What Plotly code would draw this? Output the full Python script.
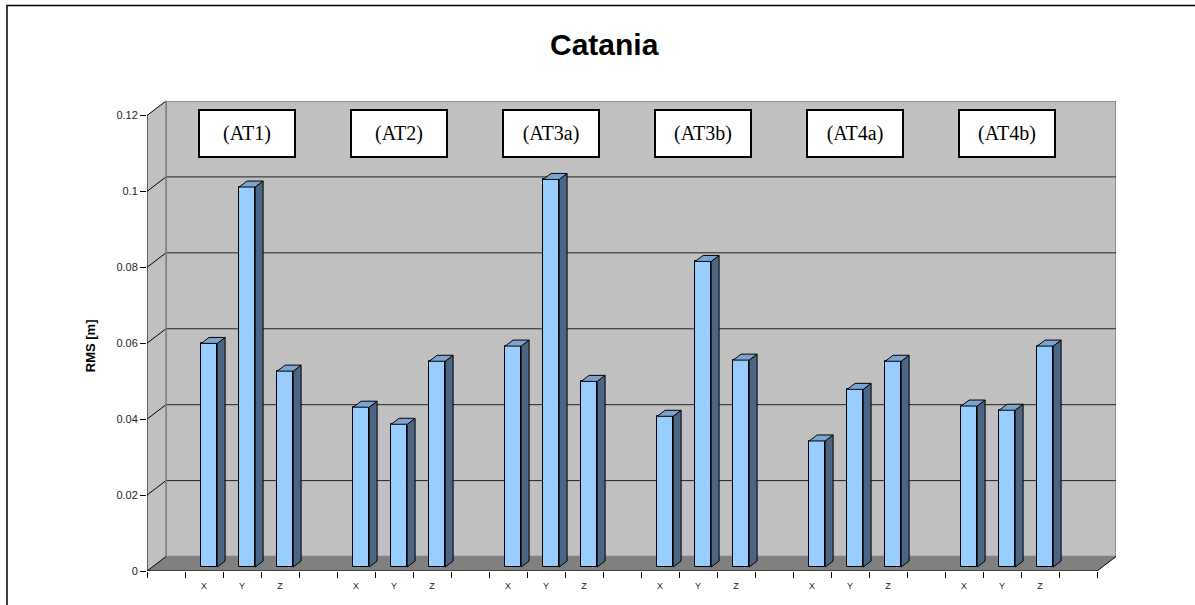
import plotly.graph_objects as go

# ---------------- data ----------------
groups = ["(AT1)", "(AT2)", "(AT3a)", "(AT3b)", "(AT4a)", "(AT4b)"]
components = ["X", "Y", "Z"]
rms_x = [0.0589, 0.0421, 0.0582, 0.0397, 0.0332, 0.0424]
rms_y = [0.1001, 0.0376, 0.1021, 0.0805, 0.0468, 0.0413]
rms_z = [0.0516, 0.0542, 0.0489, 0.0545, 0.0542, 0.0582]
y_ticks = [0, 0.02, 0.04, 0.06, 0.08, 0.1, 0.12]
y_ticktext = ["0", "0.02", "0.04", "0.06", "0.08", "0.1", "0.12"]

# category layout: blank, X, Y, Z per group, then a trailing blank
cat_labels = []
for g in groups:
    cat_labels += [""] + components
cat_labels += [""]
n_cat = len(cat_labels)

# ---------------- geometry (pixels) ----------------
W, H = 1195, 605
front_left, front_bottom = 147, 571
cat_px = 38.0          # pixel width of a category
val_px = 3800.0        # pixels per unit value
depth_dx, depth_dy = 19.0, 14.5   # oblique depth of the floor / walls
ymax = 0.12

x0r = -0.5
plot_w = n_cat * cat_px + depth_dx
x1r = x0r + plot_w / cat_px
plot_h = ymax * val_px + depth_dy
y1r = plot_h / val_px
m_l = front_left
m_r = W - (front_left + plot_w)
m_b = H - front_bottom
m_t = front_bottom - plot_h

ddx = depth_dx / cat_px
ddy = depth_dy / val_px
x_end = x0r + n_cat           # front right end of the category axis

# bar geometry (data units)
bar_shift = 5.2 / cat_px
bar_w = 16.0 / cat_px
bar_base = 4.0 / val_px
side_dx = 7.9 / cat_px
side_dy = 6.0 / val_px

C_WALL = "#C0C0C0"
C_FLOOR = "#808080"
C_FRONT = "#99CCFF"
C_SIDE = "#4D6584"
C_TOP = "#7CA4D0"

def px_to_paper_x(px):
    return (px - m_l) / plot_w

def px_to_paper_y(py):
    return (front_bottom - py) / plot_h

fig = go.Figure()

# ---------------- bars ----------------
bar_x, bar_v = [], []
for gi in range(len(groups)):
    for ci, series in enumerate([rms_x, rms_y, rms_z]):
        bar_x.append(gi * 4 + 1 + ci + bar_shift)
        bar_v.append(series[gi])

fig.add_trace(go.Bar(
    x=bar_x, y=bar_v, base=[bar_base] * len(bar_v), width=bar_w,
    marker=dict(color=C_FRONT, line=dict(color="black", width=1)),
    showlegend=False, hoverinfo="skip"))

for xc, v in zip(bar_x, bar_v):
    xl = xc - bar_w / 2
    xr = xc + bar_w / 2
    top = bar_base + v
    # side face
    fig.add_trace(go.Scatter(
        x=[xr, xr + side_dx, xr + side_dx, xr, xr],
        y=[bar_base, bar_base + side_dy, top + side_dy, top, bar_base],
        mode="lines", fill="toself", fillcolor=C_SIDE,
        line=dict(color="black", width=1), showlegend=False, hoverinfo="skip"))
    # top face
    fig.add_trace(go.Scatter(
        x=[xl, xr, xr + side_dx, xl + side_dx, xl],
        y=[top, top, top + side_dy, top + side_dy, top],
        mode="lines", fill="toself", fillcolor=C_TOP,
        line=dict(color="black", width=1), showlegend=False, hoverinfo="skip"))

# ---------------- walls, floor, grid ----------------
shapes = []
# back wall
shapes.append(dict(type="rect", xref="x", yref="y", layer="below",
                   x0=x0r + ddx, x1=x_end + ddx, y0=ddy, y1=ymax + ddy,
                   fillcolor=C_WALL, line=dict(color="#808080", width=1.5)))
# left wall
shapes.append(dict(type="path", xref="x", yref="y", layer="below",
                   path=f"M {x0r},0 L {x0r},{ymax} L {x0r+ddx},{ymax+ddy} L {x0r+ddx},{ddy} Z",
                   fillcolor=C_WALL, line=dict(width=0)))
# floor
shapes.append(dict(type="path", xref="x", yref="y", layer="below",
                   path=f"M {x0r},0 L {x_end},0 L {x_end+ddx},{ddy} L {x0r+ddx},{ddy} Z",
                   fillcolor=C_FLOOR, line=dict(width=0)))
# horizontal gridlines on back wall
for v in y_ticks[1:-1]:
    shapes.append(dict(type="line", xref="x", yref="y", layer="below",
                       x0=x0r + ddx, x1=x_end + ddx, y0=v + ddy, y1=v + ddy,
                       line=dict(color="#222222", width=1)))
# diagonals on left wall
for v in y_ticks:
    shapes.append(dict(type="line", xref="x", yref="y", layer="below",
                       x0=x0r, x1=x0r + ddx, y0=v, y1=v + ddy,
                       line=dict(color="black", width=1)))
# back-wall left edge
shapes.append(dict(type="line", xref="x", yref="y", layer="below",
                   x0=x0r + ddx, x1=x0r + ddx, y0=ddy, y1=ymax + ddy,
                   line=dict(color="#808080", width=1.5)))
# axis lines
shapes.append(dict(type="line", xref="x", yref="y", layer="above",
                   x0=x0r, x1=x0r, y0=0, y1=ymax, line=dict(color="black", width=1)))
shapes.append(dict(type="line", xref="x", yref="y", layer="above",
                   x0=x0r, x1=x_end, y0=0, y1=0, line=dict(color="black", width=1)))
shapes.append(dict(type="line", xref="x", yref="y", layer="above",
                   x0=x_end, x1=x_end + ddx, y0=0, y1=ddy, line=dict(color="black", width=1)))
# outer chart border
shapes.append(dict(type="rect", xref="paper", yref="paper", layer="above",
                   x0=px_to_paper_x(7), x1=px_to_paper_x(W + 10),
                   y0=px_to_paper_y(H + 10), y1=px_to_paper_y(5),
                   fillcolor="rgba(0,0,0,0)", line=dict(color="black", width=1.5)))

# ---------------- annotations ----------------
annotations = []
for gi, g in enumerate(groups):
    annotations.append(dict(
        text=g, x=gi * 4 + 2 + bar_shift, xref="x",
        y=px_to_paper_y(133.5), yref="paper", showarrow=False,
        font=dict(family="Liberation Serif, Times New Roman, serif", size=20, color="black"),
        bgcolor="white", bordercolor="black", borderwidth=2, borderpad=0,
        width=94, height=45, xanchor="center", yanchor="middle"))

annotations.append(dict(
    text="<b>RMS [m]</b>", x=px_to_paper_x(90), y=px_to_paper_y(346),
    xref="paper", yref="paper", showarrow=False, textangle=-90,
    font=dict(family="Liberation Sans, Arial, sans-serif", size=13, color="black"),
    xanchor="center", yanchor="middle"))

annotations.append(dict(
    text="<b>Catania</b>", x=px_to_paper_x(604), y=px_to_paper_y(44),
    xref="paper", yref="paper", showarrow=False,
    font=dict(family="Liberation Sans, Arial, sans-serif", size=30, color="black"),
    xanchor="center", yanchor="middle"))

fig.update_layout(
    width=W, height=H,
    margin=dict(l=m_l, r=m_r, t=m_t, b=m_b, pad=0),
    paper_bgcolor="white", plot_bgcolor="white",
    shapes=shapes, annotations=annotations,
    showlegend=False, bargap=0,
    xaxis=dict(range=[x0r, x1r], showgrid=False, zeroline=False, showline=False,
               tickmode="array", tickvals=list(range(n_cat)), ticktext=cat_labels,
               ticks="outside", ticklen=6, tickcolor="rgba(0,0,0,0)",
               tickfont=dict(family="Liberation Sans, Arial, sans-serif", size=9, color="#222222"),
               minor=dict(tickmode="array", tickvals=[i - 0.5 for i in range(n_cat + 1)],
                          ticks="outside", ticklen=6, tickcolor="black", tickwidth=1,
                          showgrid=False),
               fixedrange=True),
    yaxis=dict(range=[0, y1r], showgrid=False, zeroline=False, showline=False,
               tickmode="array", tickvals=y_ticks, ticktext=y_ticktext,
               ticks="outside", ticklen=6, tickcolor="black",
               tickfont=dict(family="Liberation Sans, Arial, sans-serif", size=11, color="#222222"),
               fixedrange=True),
)

fig.write_html("out.html", config={"displayModeBar": False},
               post_script="document.body.style.margin='0px';")
